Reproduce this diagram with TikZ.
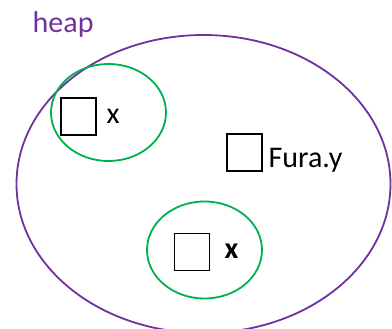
\documentclass[tikz,border=0pt]{standalone}
\usepackage{fontspec}
\setmainfont{Carlito}
\usetikzlibrary{shapes.geometric}
\definecolor{heappurple}{HTML}{7030A0}
\definecolor{setgreen}{HTML}{00B050}
\begin{document}
\begin{tikzpicture}[x=1pt,y=-1pt,
  heapring/.style={draw=heappurple, line width=1.8pt, ellipse, inner sep=0pt, minimum width=374pt, minimum height=298pt},
  greenring/.style={draw=setgreen, line width=1.8pt, ellipse, inner sep=0pt, minimum width=115pt, minimum height=97pt},
  cell/.style={draw=black, line width=1.8pt, rectangle, inner sep=0pt, minimum width=35pt, minimum height=37pt},
  lbl/.style={inner sep=0pt, anchor=base west, font=\fontsize{30}{36}\selectfont}
]
\useasboundingbox (0,0) rectangle (392,329);
\node[heapring] (heap) at (203.5,184) {};
\node[lbl, text=heappurple] (heaplbl) at (32.5,33) {heap};
\node[greenring] (g1) at (108.5,112.5) {};
\node[cell] (c1) at (78.5,116.5) {};
\node[lbl] (x1) at (106.5,124) {x};
\node[cell] (c2) at (244.5,152.5) {};
\node[lbl] (fy) at (268.5,168) {Fura.y};
\node[greenring] (g2) at (204.5,250) {};
\node[cell] (c3) at (192,252) {};
\node[lbl, font=\fontsize{30}{36}\selectfont\bfseries] (x2) at (224.5,259) {x};
\end{tikzpicture}
\end{document}
